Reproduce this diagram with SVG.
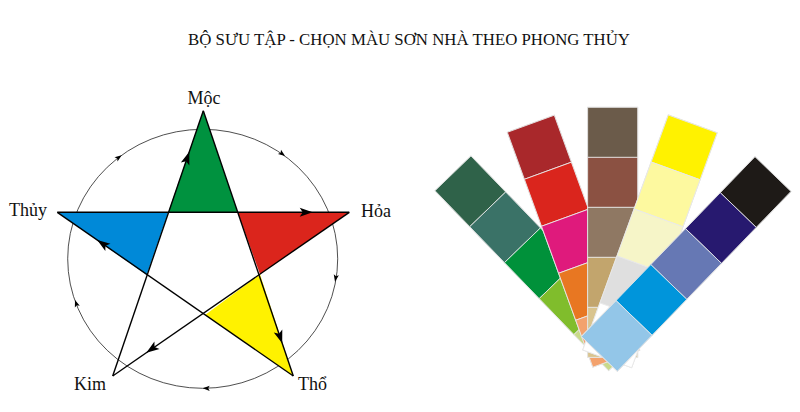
<svg xmlns="http://www.w3.org/2000/svg" width="800" height="412" viewBox="0 0 800 412">
<style>
.t{font-family:"Liberation Serif","Times New Roman",serif;fill:#111}
.lbl{font-size:18px}
.ln{stroke:#000;stroke-width:1.4;fill:none}
.sq{stroke:#e8e8e8;stroke-width:0.8}
</style>
<defs>
<path id="ah" d="M0,0 L-13,-4.5 L-10,0 L-13,4.5 Z" fill="#000"/>
<path id="sah" d="M0,0 L-7,-2.6 L-5.5,0 L-7,2.6 Z" fill="#000"/>
</defs>
<rect width="800" height="412" fill="#fff"/>
<text class="t" x="409" y="45" font-size="17" text-anchor="middle" textLength="442" lengthAdjust="spacingAndGlyphs">BỘ SƯU TẬP - CHỌN MÀU SƠN NHÀ THEO PHONG THỦY</text>

<g id="circle-cycle">
<ellipse cx="202.7" cy="258.8" rx="135" ry="129.5" fill="none" stroke="#222" stroke-width="0.8"/>
<use href="#sah" transform="translate(121.7,155.2) rotate(-35.7)"/>
<use href="#sah" transform="translate(285.1,156) rotate(36.4)"/>
<use href="#sah" transform="translate(335,281.7) rotate(100.7)"/>
<use href="#sah" transform="translate(202.7,388.3) rotate(180)"/>
<use href="#sah" transform="translate(75,300) rotate(-109.3)"/>
</g>

<g id="star-fills">
<polygon points="203.3,110.7 237.7,212.3 168.3,212.3" fill="#00923f"/>
<polygon points="237.7,212.3 349.3,212.3 260,274.3" fill="#db251c"/>
<polygon points="57.3,212.3 168.3,212.3 146.7,275" fill="#0089d8"/>
<polygon points="260,274.3 293.3,376 205,315" fill="#fff200"/>
</g>

<g id="connectors">
<line class="ln" x1="112.7" y1="376" x2="203.3" y2="110.7"/>
<line class="ln" x1="203.3" y1="110.7" x2="293.3" y2="376"/>
<line class="ln" x1="293.3" y1="376" x2="57.3" y2="212.3"/>
<line class="ln" x1="57.3" y1="212.3" x2="349.3" y2="212.3"/>
<line class="ln" x1="349.3" y1="212.3" x2="112.7" y2="376"/>
<use href="#ah" transform="translate(189.3,151.7) rotate(-71.1)"/>
<use href="#ah" transform="translate(312.7,212.3)"/>
<use href="#ah" transform="translate(282.2,343.3) rotate(71.3)"/>
<use href="#ah" transform="translate(146.3,352.7) rotate(145.3)"/>
<use href="#ah" transform="translate(97.2,240) rotate(-145.3)"/>
</g>

<g id="moc"><text class="t lbl" x="204" y="104" text-anchor="middle">Mộc</text></g>
<g id="hoa"><text class="t lbl" x="361" y="217">Hỏa</text></g>
<g id="thuy"><text class="t lbl" x="47" y="216" text-anchor="end">Thủy</text></g>
<g id="kim"><text class="t lbl" x="74" y="390">Kim</text></g>
<g id="tho"><text class="t lbl" x="298" y="390">Thổ</text></g>

<g id="fan">
<g id="strip-green" transform="translate(435,190.7) rotate(-44)">
<rect x="0" y="0" width="50" height="250" fill="#fff" stroke="#ddd" stroke-width="1"/>
<rect class="sq" x="0" y="0" width="50" height="50" fill="#2f6249"/>
<rect class="sq" x="0" y="50" width="50" height="50" fill="#3a7267"/>
<rect class="sq" x="0" y="100" width="50" height="50" fill="#00913a"/>
<rect class="sq" x="0" y="150" width="50" height="50" fill="#80bd2c"/>
<rect class="sq" x="0" y="200" width="50" height="50" fill="#c9da8a"/>
</g>
<g id="strip-red" transform="translate(507.3,132.3) rotate(-20)">
<rect x="0" y="0" width="50" height="250" fill="#fff" stroke="#ddd" stroke-width="1"/>
<rect class="sq" x="0" y="0" width="50" height="50" fill="#a9282b"/>
<rect class="sq" x="0" y="50" width="50" height="50" fill="#da251d"/>
<rect class="sq" x="0" y="100" width="50" height="50" fill="#df1a7c"/>
<rect class="sq" x="0" y="150" width="50" height="50" fill="#e87722"/>
<rect class="sq" x="0" y="200" width="50" height="50" fill="#f3a26d"/>
</g>
<g id="strip-brown" transform="translate(587.7,107.3)">
<rect x="0" y="0" width="50" height="250" fill="#fff" stroke="#ddd" stroke-width="1"/>
<rect class="sq" x="0" y="0" width="50" height="50" fill="#6b5b4a"/>
<rect class="sq" x="0" y="50" width="50" height="50" fill="#8b5142"/>
<rect class="sq" x="0" y="100" width="50" height="50" fill="#8f7863"/>
<rect class="sq" x="0" y="150" width="50" height="50" fill="#c2a56d"/>
<rect class="sq" x="0" y="200" width="50" height="50" fill="#d9c48f"/>
</g>
<g id="strip-yellow" transform="translate(668.3,115) rotate(20)">
<rect x="0" y="0" width="52" height="250" fill="#fff" stroke="#ddd" stroke-width="1"/>
<rect class="sq" x="0" y="0" width="52" height="50" fill="#fff200"/>
<rect class="sq" x="0" y="50" width="52" height="50" fill="#fdf99f"/>
<rect class="sq" x="0" y="100" width="52" height="50" fill="#f6f5c8"/>
<rect class="sq" x="0" y="150" width="52" height="50" fill="#dfdfdf"/>
<rect class="sq" x="0" y="200" width="52" height="50" fill="#ffffff"/>
</g>
<g id="strip-blue" transform="translate(755,156.7) rotate(44)">
<rect x="0" y="0" width="50" height="250" fill="#fff" stroke="#ddd" stroke-width="1"/>
<rect class="sq" x="0" y="0" width="50" height="50" fill="#1e1a17"/>
<rect class="sq" x="0" y="50" width="50" height="50" fill="#27196f"/>
<rect class="sq" x="0" y="100" width="50" height="50" fill="#6678b4"/>
<rect class="sq" x="0" y="150" width="50" height="50" fill="#0095db"/>
<rect class="sq" x="0" y="200" width="50" height="50" fill="#93c6e8"/>
</g>
</g>
</svg>
